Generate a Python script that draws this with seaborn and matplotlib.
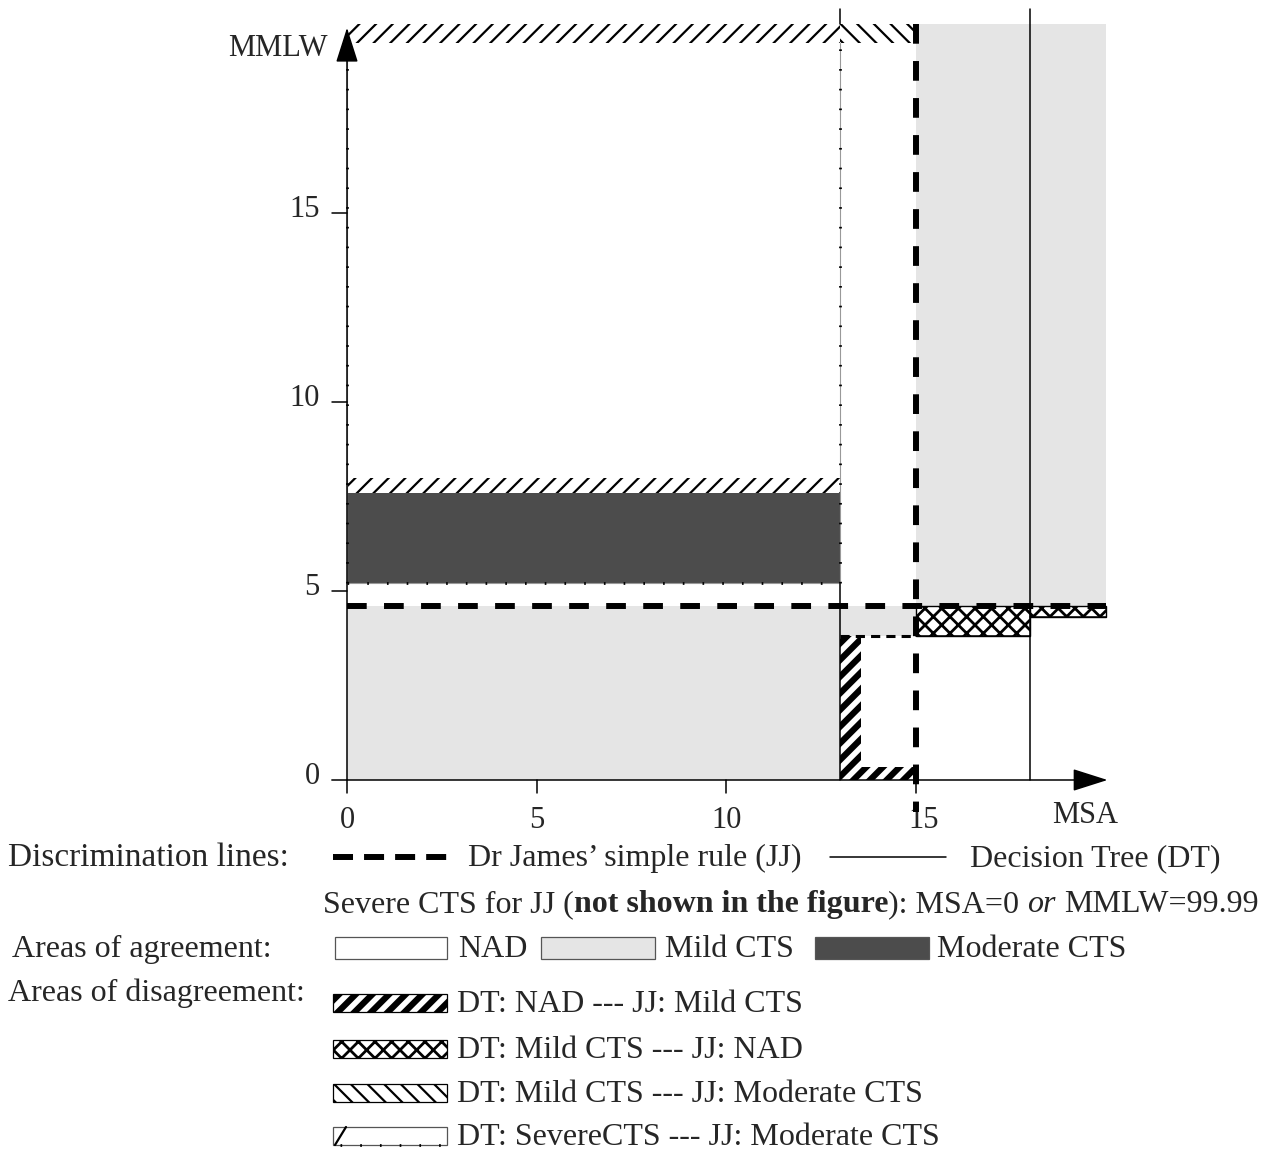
import matplotlib
matplotlib.use("Agg")
import matplotlib.pyplot as plt
import seaborn as sns

# axis ticks and extent
msa_ticks = [0, 5, 10, 15]
mmlw_ticks = [0, 5, 10, 15]
msa_max = 20.0
mmlw_max = 20.0

# Dr James' simple rule (JJ) thresholds
jj_msa = 15.0
jj_mmlw = 4.6

# areas of agreement
agree_kind = ["Mild CTS", "Moderate CTS", "Mild CTS", "Mild CTS"]
agree_msa0 = [0.0, 0.0, 13.0, 15.0]
agree_msa1 = [13.0, 13.0, 15.0, 20.0]
agree_mmlw0 = [0.0, 5.2, 3.8, 4.6]
agree_mmlw1 = [4.6, 7.6, 4.6, 20.0]

# areas of disagreement (pattern drawn as in the original figure)
dis_kind = ["nad_mild", "nad_mild", "mild_nad", "mild_nad", "mild_mod", "sev_mod", "sev_mod"]
dis_msa0 = [13.0, 13.0, 15.0, 18.0, 13.0, 0.0, 0.0]
dis_msa1 = [13.55, 15.0, 18.0, 20.0, 15.0, 13.0, 13.0]
dis_mmlw0 = [0.0, 0.0, 3.8, 4.3, 19.5, 19.5, 7.6]
dis_mmlw1 = [3.8, 0.35, 4.6, 4.6, 20.0, 20.0, 8.0]

# decision tree (DT) boundary segments
dt_seg_msa = [(13, 13), (13, 13), (18, 18), (15, 18), (18, 20)]
dt_seg_mmlw = [(0, 5.2), (20, 20.4), (0, 20.4), (3.8, 3.8), (4.3, 4.3)]

agree_color = {"NAD": "white", "Mild CTS": "#e5e5e5", "Moderate CTS": "#4c4c4c"}
dis_hatch = {"nad_mild": ("//", 4.5), "mild_nad": ("xx", 2.0),
             "mild_mod": ("\\\\", 1.6), "sev_mod": ("//", 1.6)}

sns.set_theme(style="white")
plt.rcParams["font.family"] = ["Liberation Serif", "DejaVu Serif"]

W, H = 1269, 1153
fig = plt.figure(figsize=(W / 100, H / 100), dpi=100)
ax = fig.add_axes([0, 0, 1, 1])
# origin at pixel (347, 780), ~37.9 px per unit
ax.set_xlim(-347 / 37.93, (W - 347) / 37.93)
ax.set_ylim(-(H - 780) / 37.8, 780 / 37.8)
ax.axis("off")


def hatched(ax, x0, x1, y0, y1, hatch, hlw, lw=0):
    bars = ax.bar(x0, y1 - y0, width=x1 - x0, bottom=y0, align="edge",
                  color="white", edgecolor="black", linewidth=lw, hatch=hatch, zorder=2)
    for p in bars:
        if hasattr(p, "set_hatch_linewidth"):
            p.set_hatch_linewidth(hlw)
    return bars


# agreement areas
for k, x0, x1, y0, y1 in zip(agree_kind, agree_msa0, agree_msa1, agree_mmlw0, agree_mmlw1):
    ax.bar(x0, y1 - y0, width=x1 - x0, bottom=y0, align="edge",
           color=agree_color[k], linewidth=0, zorder=1)

# disagreement areas
for k, x0, x1, y0, y1 in zip(dis_kind, dis_msa0, dis_msa1, dis_mmlw0, dis_mmlw1):
    h, hlw = dis_hatch[k]
    hatched(ax, x0, x1, y0, y1, h, hlw, lw=1.0 if k == "mild_nad" else 0)

# dotted borders of the severe region
for xs, ys in [((0, 0), (5.2, 19.5)), ((13, 13), (5.2, 19.5)), ((0, 13), (5.2, 5.2))]:
    ax.plot(xs, ys, color="#999999", lw=0.8, zorder=3)
    ax.plot(xs, ys, color="black", lw=2.0, linestyle=(0, (0.6, 6.5)), zorder=3)
ax.plot((13, 15), (3.8, 3.8), color="black", lw=2.2, linestyle=(0, (3, 2)), zorder=3)

# DT lines
for xs, ys in zip(dt_seg_msa, dt_seg_mmlw):
    ax.plot(xs, ys, color="black", lw=1.1, zorder=4)

# JJ lines
jj_style = dict(color="black", lw=4.3, linestyle=(0, (3.3, 2.9)), zorder=6,
                solid_capstyle="butt", dash_capstyle="butt")
ax.plot([0, msa_max], [jj_mmlw, jj_mmlw], **jj_style)
ax.plot([jj_msa, jj_msa], [mmlw_max, -0.85], **jj_style)

# axes with arrows
arrow = dict(arrowstyle="-|>,head_length=2.2,head_width=0.7", color="black",
             lw=1.1, mutation_scale=10, shrinkA=0, shrinkB=0)
ax.annotate("", xy=(20.05, 0), xytext=(-0.4, 0), arrowprops=arrow, zorder=7)
ax.annotate("", xy=(0, 19.9), xytext=(0, 0), arrowprops=arrow, zorder=7)

afs = 22
for t in msa_ticks:
    ax.plot([t, t], [0, -0.34], color="black", lw=1.1, zorder=7)
    shift = 0.2 if t == jj_msa else 0.0
    ax.text(t + shift, -1.08, str(t), ha="center", va="center", fontsize=afs)
for t in mmlw_ticks:
    if t > 0:
        ax.plot([0, -0.4], [t, t], color="black", lw=1.1, zorder=7)
    ax.text(-0.72, t + 0.08, str(t), ha="right", va="center", fontsize=afs)
ax.text(-0.5, 19.35, "MMLW", ha="right", va="center", fontsize=afs)
ax.text(19.45, -0.93, "MSA", ha="center", va="center", fontsize=afs)

# legend area in pixel coordinates
lg = fig.add_axes([0, 0, 1, 1], facecolor="none")
lg.set_xlim(0, W)
lg.set_ylim(H, 0)
lg.axis("off")
fs = 23


def label(x, yc, s, size=fs, **kw):
    return lg.text(x, yc + 9, s, fontsize=size, ha="left", va="baseline", **kw)


label(8, 857, "Discrimination lines:", size=24)
lg.plot([333, 447], [857, 857], color="black", lw=4.3, linestyle=(0, (3.35, 1.85)))
label(468, 857, "Dr James\u2019 simple rule (JJ)")
lg.plot([830, 946], [857, 857], color="black", lw=1.1)
label(970, 857, "Decision Tree (DT)")

# mixed style line
renderer = fig.canvas.get_renderer()
x = 323
space = fs * 100 / 72 * 0.25
runs = [("Severe CTS for JJ (", "normal", "normal", 0),
        ("not shown in the figure", "bold", "normal", 0),
        ("): MSA=0", "normal", "normal", space),
        ("or", "normal", "italic", space),
        ("MMLW=99.99", "normal", "normal", 0)]
for s, wgt, sty, gap in runs:
    t = label(x, 903, s, fontweight=wgt, fontstyle=sty)
    x += t.get_window_extent(renderer).width + gap

label(12, 948, "Areas of agreement:")
for (x0, x1), k, tx in zip([(335, 447), (541, 655), (815, 929)],
                           ["NAD", "Mild CTS", "Moderate CTS"], [458, 665, 937]):
    lg.bar(x0, 22, width=x1 - x0, bottom=937, align="edge",
           color=agree_color[k], edgecolor="#555555", linewidth=0.9)
    label(tx, 948, k)

label(8, 992, "Areas of disagreement:")
dis_labels = ["DT: NAD --- JJ: Mild CTS", "DT: Mild CTS --- JJ: NAD",
              "DT: Mild CTS --- JJ: Moderate CTS", "DT: SevereCTS --- JJ: Moderate CTS"]
for yc, key, txt in zip([1003, 1049, 1093, 1136],
                        ["nad_mild", "mild_nad", "mild_mod", None], dis_labels):
    if key is None:
        lg.bar(333, 18, width=114, bottom=yc - 9, align="edge",
               color="white", edgecolor="#555555", linewidth=0.9)
        lg.plot([335, 346], [yc + 9, yc - 9], color="black", lw=1.6)
        lg.plot([340, 447], [yc + 9, yc + 9], color="black", lw=2.0,
                linestyle=(0, (0.6, 6.5)))
    else:
        h, hlw = dis_hatch[key]
        hatched(lg, 333, 447, yc - 9, yc + 9, h, hlw, lw=0.9)
    label(457, yc, txt)

fig.savefig("out.png", dpi=100)
